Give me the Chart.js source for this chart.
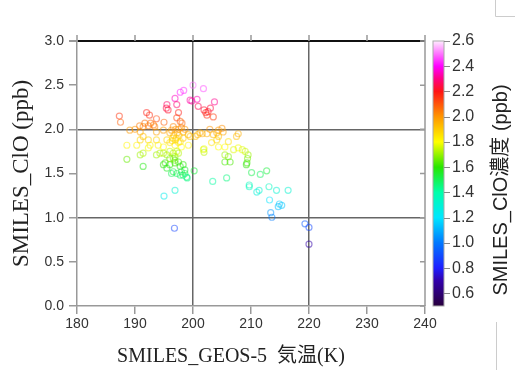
<!DOCTYPE html>
<html>
<head>
<meta charset="utf-8">
<script src="https://cdn.jsdelivr.net/npm/chart.js@4/dist/chart.umd.min.js"></script>
<style>
  html, body { margin: 0; padding: 0; background: #fff; }
  #wrap { width: 515px; height: 370px; }
</style>
</head>
<body>
<div id="wrap"><canvas id="myChart" width="515" height="370"></canvas></div>
<script>
//  DADOS
const tempK = [
  187.3, 187.5, 192.0, 192.5, 193.7, 191.7, 192.7, 195.0, 195.5, 195.7, 196.9, 197.2, 197.5, 197.8, 198.4, 199.5, 199.8,
  200.0, 201.8, 200.7, 200.9, 201.9, 202.2, 202.6, 203.0, 202.4, 203.5, 203.7, 197.2, 197.8, 198.1, 195.4, 193.4,
  189.1, 190.0, 190.9, 191.4, 192.3, 193.2, 193.7, 194.9, 196.0, 196.3, 196.6, 197.5, 198.3, 201.2, 202.9, 204.4,
  190.8, 197.0, 197.3, 197.6, 198.0, 196.7, 196.5, 197.1, 198.6, 199.2, 199.5, 200.4, 200.8, 201.6, 202.4, 203.5,
  204.1, 204.4, 205.0, 205.2, 207.5, 207.8,
  188.6, 190.3, 190.9, 191.4, 192.3, 192.6, 193.7, 194.0, 194.9, 195.5, 196.0, 196.9, 197.5, 198.0, 199.2, 201.8,
  203.2, 204.1, 204.4, 205.5, 206.1, 198.3, 201.9, 201.9, 196.4, 197.0, 197.8,
  190.9, 191.4, 192.3, 193.7, 194.3, 195.5, 196.0, 196.9, 197.2, 207.0, 207.8, 208.5, 209.0, 209.5, 209.4, 205.5,
  206.1, 205.5, 206.4, 194.9, 196.6, 197.5,
  188.6, 191.4, 194.9, 195.2, 196.0, 196.9, 197.5, 196.9, 197.8, 198.3, 198.6, 195.5, 196.6, 196.3, 197.2, 197.8,
  198.0, 198.3, 198.6, 198.9, 199.0, 200.2, 196.0, 196.6, 209.3, 209.2, 210.1, 211.6, 212.7, 203.4, 205.8,
  195.0, 196.9, 209.7, 209.7, 211.0, 211.4, 213.1, 214.4, 216.4, 213.2, 214.9, 215.3, 214.7, 213.4, 213.6, 219.3,
  220.0, 196.8, 220.0
];
const cloPpb = [
  2.15, 2.08, 2.19, 2.16, 2.12, 2.07, 2.07, 2.08, 2.28, 2.22, 2.35, 2.28, 2.19, 2.42, 2.44, 2.33, 2.32,
  2.50, 2.46, 2.34, 2.26, 2.22, 2.19, 2.20, 2.24, 2.16, 2.14, 2.31, 2.13, 2.09, 2.07, 2.24, 2.03,
  1.99, 2.00, 1.97, 2.03, 2.04, 2.05, 1.97, 1.99, 1.96, 1.99, 2.03, 2.00, 1.97, 1.96, 2.00, 1.99,
  2.04, 2.00, 1.96, 1.93, 2.02, 1.93, 1.90, 1.90, 2.00, 1.94, 1.92, 1.92, 1.94, 1.95, 1.95, 1.94,
  1.96, 1.92, 2.01, 1.97, 1.92, 1.95,
  1.82, 1.82, 1.88, 1.92, 1.88, 1.82, 1.88, 1.82, 1.80, 1.88, 1.85, 1.82, 1.85, 1.80, 1.82, 1.77,
  1.85, 1.88, 1.80, 1.80, 1.86, 1.90, 1.78, 1.74, 1.87, 1.88, 1.86,
  1.71, 1.73, 1.79, 1.71, 1.73, 1.71, 1.75, 1.69, 1.75, 1.77, 1.79, 1.77, 1.75, 1.71, 1.67, 1.71,
  1.69, 1.63, 1.63, 1.73, 1.73, 1.73,
  1.66, 1.58, 1.60, 1.62, 1.60, 1.62, 1.63, 1.65, 1.58, 1.60, 1.54, 1.56, 1.52, 1.50, 1.50, 1.48,
  1.52, 1.48, 1.50, 1.46, 1.45, 1.53, 1.67, 1.67, 1.62, 1.60, 1.51, 1.49, 1.53, 1.41, 1.45,
  1.245, 1.31, 1.37, 1.35, 1.29, 1.31, 1.35, 1.31, 1.31, 1.20, 1.155, 1.14, 1.125, 1.057, 1.005, 0.93,
  0.89, 0.88, 0.70
];

//  EIXOS
const xTicks = [180, 190, 200, 210, 220, 230, 240];
const yTicks = [0.0, 0.5, 1.0, 1.5, 2.0, 2.5, 3.0];
const cbTicks = [0.6, 0.8, 1.0, 1.2, 1.4, 1.6, 1.8, 2.0, 2.2, 2.4, 2.6];
const xGridDark = [200, 220];
const yGridDark = [1.0, 2.0];

const xTitle = 'SMILES_GEOS-5  気温(K)';
const yTitle = 'SMILES_ClO (ppb)';
const cbTitle = 'SMILES_ClO濃度 (ppb)';

//  PALETA (valor -> cor)
const cmap = [
  [0.5, [40, 0, 60]],
  [0.7, [50, 0, 170]],
  [0.8, [30, 30, 255]],
  [1.0, [0, 120, 255]],
  [1.2, [0, 230, 255]],
  [1.4, [0, 255, 170]],
  [1.6, [40, 230, 0]],
  [1.8, [255, 255, 0]],
  [2.0, [255, 150, 0]],
  [2.2, [255, 20, 20]],
  [2.3, [255, 0, 130]],
  [2.4, [255, 0, 255]],
  [2.6, [255, 235, 255]]
];

function corDoValor(v, a) {
  let c = cmap[cmap.length - 1][1];
  if (v <= cmap[0][0]) c = cmap[0][1];
  for (let i = 0; i < cmap.length - 1; i++) {
    const v0 = cmap[i][0], v1 = cmap[i + 1][0];
    if (v >= v0 && v <= v1) {
      const t = (v - v0) / (v1 - v0);
      c = cmap[i][1].map((k, j) => Math.round(k + (cmap[i + 1][1][j] - k) * t));
      break;
    }
  }
  return 'rgba(' + c[0] + ',' + c[1] + ',' + c[2] + ',' + a + ')';
}

//  DESENHOS EXTRAS (bordas, barra de cores, titulos)
const extras = {
  id: 'extras',
  afterDraw(chart) {
    const ctx = chart.ctx;
    const ca = chart.chartArea;
    const xs = chart.scales.x;
    const ys = chart.scales.y;
    const cb = chart.scales.cb;
    ctx.save();

    // borda direita + ticks
    ctx.strokeStyle = '#999';
    ctx.lineWidth = 1.5;
    ctx.beginPath();
    ctx.moveTo(ca.right, ca.top);
    ctx.lineTo(ca.right, ca.bottom);
    yTicks.forEach(v => {
      const py = ys.getPixelForValue(v);
      ctx.moveTo(ca.right - 5, py);
      ctx.lineTo(ca.right, py);
    });
    // ticks de cima
    xTicks.forEach(v => {
      const px = xs.getPixelForValue(v);
      ctx.moveTo(px, ca.top);
      ctx.lineTo(px, ca.top - 6);
    });
    ctx.stroke();

    // barra de cores
    const bx = ca.right + 8, bw = 11;
    const top = cb.getPixelForValue(2.6), bot = cb.getPixelForValue(0.5);
    const grad = ctx.createLinearGradient(0, bot, 0, top);
    cmap.forEach(s => grad.addColorStop((s[0] - 0.5) / 2.1, corDoValor(s[0], 1)));
    ctx.fillStyle = grad;
    ctx.fillRect(bx, top, bw, bot - top);
    ctx.strokeStyle = '#aaa';
    ctx.lineWidth = 1;
    ctx.strokeRect(bx, top, bw, bot - top);
    ctx.strokeStyle = '#888';
    ctx.beginPath();
    cbTicks.forEach(v => {
      const py = Math.round(cb.getPixelForValue(v)) + 0.5;
      ctx.moveTo(bx + bw, py);
      ctx.lineTo(bx + bw + 6, py);
    });
    ctx.stroke();

    // titulo da barra
    ctx.fillStyle = '#222';
    ctx.font = '20px "Liberation Sans", Arial, "Noto Sans CJK JP", sans-serif';
    ctx.textAlign = 'center';
    ctx.textBaseline = 'middle';
    ctx.translate(501, 190);
    ctx.rotate(-Math.PI / 2);
    ctx.fillText(cbTitle, 0, 0);
    ctx.setTransform(1, 0, 0, 1, 0, 0);

    // titulo do eixo x
    ctx.font = '20px "Liberation Serif", "Times New Roman", "Noto Sans CJK JP", serif';
    ctx.fillText(xTitle, 231, 357);

    // marcas de canto
    ctx.strokeStyle = '#ccc';
    ctx.lineWidth = 1;
    ctx.beginPath();
    ctx.moveTo(495.5, 0);
    ctx.lineTo(495.5, 16.5);
    ctx.lineTo(515, 16.5);
    ctx.moveTo(496.5, 322);
    ctx.lineTo(496.5, 370);
    ctx.stroke();
    ctx.restore();
  }
};

//  GRAFICO
const ctx = document.getElementById('myChart');
const fonteTicks = { family: '"Liberation Sans", Arial, sans-serif', size: 14 };

new Chart(ctx, {
  type: 'scatter',
  data: {
    datasets: [
      {
        label: 'ClO',
        data: tempK.map((t, i) => ({ x: t, y: cloPpb[i] })),
        pointRadius: 3,
        pointHoverRadius: 3,
        pointBorderWidth: 1.2,
        pointBackgroundColor: 'rgba(0,0,0,0)',
        pointBorderColor: c => c.raw ? corDoValor(c.raw.y, 0.5) : '#888',
      }
    ]
  },
  options: {
    responsive: false,
    animation: false,
    events: [],
    layout: { padding: { left: 0, right: 0, top: 41, bottom: 0 } },
    plugins: { legend: { display: false }, tooltip: { enabled: false } },
    scales: {
      x: {
        type: 'linear',
        min: 180,
        max: 240,
        afterFit: s => { s.height = 64; },
        afterBuildTicks: s => { s.ticks = xTicks.map(v => ({ value: v })); },
        ticks: { font: fonteTicks, color: '#333', padding: 2, maxRotation: 0 },
        border: { color: '#999', width: 1.5 },
        grid: {
          color: c => xGridDark.includes(c.tick.value) ? '#666' : 'rgba(0,0,0,0)',
          lineWidth: 1.5,
          tickColor: '#999',
          tickLength: 8
        }
      },
      y: {
        type: 'linear',
        min: 0,
        max: 3,
        afterFit: s => { s.width = 77; },
        afterBuildTicks: s => { s.ticks = yTicks.map(v => ({ value: v })); },
        ticks: { font: fonteTicks, color: '#333', padding: 5, callback: v => v.toFixed(1) },
        border: { color: '#999', width: 1.5 },
        title: {
          display: true,
          text: yTitle,
          color: '#222',
          font: { family: '"Liberation Serif", "Times New Roman", serif', size: 23 },
          padding: { top: 8, bottom: 0 }
        },
        grid: {
          color: c => c.tick.value === 3 ? '#111' : (yGridDark.includes(c.tick.value) ? '#666' : 'rgba(0,0,0,0)'),
          lineWidth: c => c.tick.value === 3 ? 2 : 1.5,
          tickColor: '#999',
          tickLength: 8
        }
      },
      cb: {
        type: 'linear',
        position: 'right',
        min: 0.5,
        max: 2.6,
        afterFit: s => { s.width = 90; },
        afterBuildTicks: s => { s.ticks = cbTicks.map(v => ({ value: v })); },
        ticks: { font: { family: '"Liberation Sans", Arial, sans-serif', size: 16 }, color: '#333', padding: 27, callback: v => v.toFixed(1) },
        border: { display: false },
        grid: { drawOnChartArea: false, drawTicks: false }
      }
    }
  },
  plugins: [extras]
});
</script>
</body>
</html>
